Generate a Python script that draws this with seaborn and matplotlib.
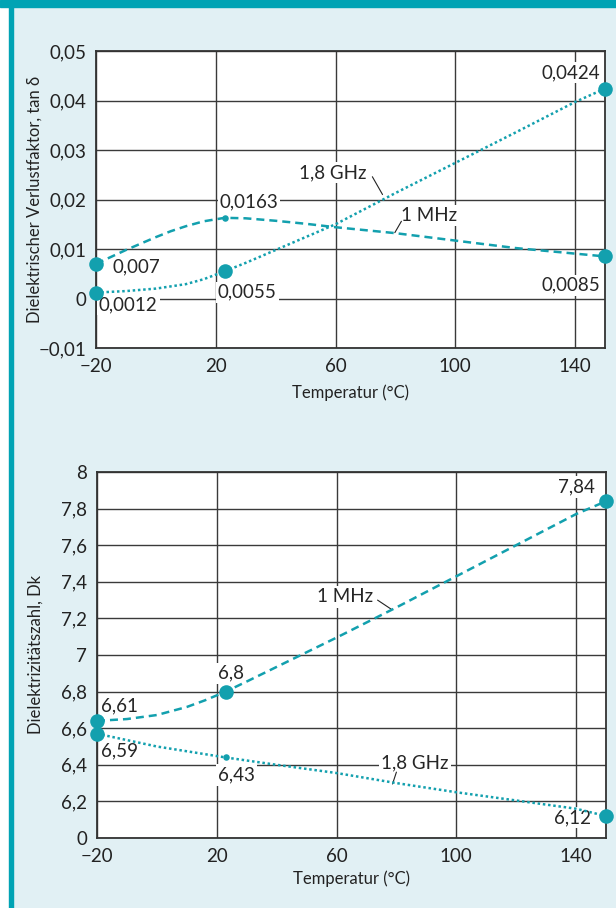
import numpy as np
import pandas as pd
import matplotlib.pyplot as plt
from matplotlib.patches import Rectangle
import seaborn as sns

TEAL = "#00a3b4"
LINE_TEAL = "#13a0ae"
BG = "#e1f0f4"
GRID = "#3a3a3a"

# --- dissipation factor (tan delta)
temp_df_mhz = [-20, -15, -10, -5, 0, 5, 10, 16, 23, 30, 40, 50, 60, 80, 100, 120, 150]
df_mhz = [0.007, 0.0084, 0.0098, 0.0111, 0.0124, 0.0136, 0.0146, 0.0156, 0.0163, 0.0162,
          0.0157, 0.0151, 0.0144, 0.0132, 0.0117, 0.0102, 0.0085]
temp_df_ghz = [-20, -10, 0, 10, 16, 23, 30, 40, 60, 80, 100, 120, 140, 150]
df_ghz = [0.0012, 0.0015, 0.002, 0.0029, 0.0039, 0.0055, 0.0072, 0.0098, 0.015, 0.0213,
          0.0274, 0.0335, 0.0397, 0.0424]

# marked points
mark_df_big = pd.DataFrame({"t": [-20, 150, -20, 23, 150],
                            "v": [0.007, 0.0085, 0.0012, 0.0055, 0.0424]})
mark_df_small = pd.DataFrame({"t": [23], "v": [0.0163]})

# --- dielectric constant (Dk)
temp_dk_mhz = [-20, -10, 0, 10, 16, 23, 30, 40, 60, 80, 100, 120, 140, 150]
dk_mhz = [6.64, 6.65, 6.672, 6.716, 6.752, 6.8, 6.855, 6.935, 7.095, 7.26, 7.43, 7.60, 7.77, 7.84]
temp_dk_ghz = [-20, 0, 23, 40, 60, 80, 100, 120, 140, 150]
dk_ghz = [6.57, 6.50, 6.44, 6.40, 6.355, 6.30, 6.25, 6.205, 6.16, 6.12]

mark_dk_big = pd.DataFrame({"t": [-20, 23, 150, -20, 150],
                            "v": [6.64, 6.8, 7.84, 6.57, 6.12]})
mark_dk_small = pd.DataFrame({"t": [23], "v": [6.44]})

x_ticks = [-20, 20, 60, 100, 140]
x_labels = ["\u221220", "20", "60", "100", "140"]
df_ticks = [-0.01, 0, 0.01, 0.02, 0.03, 0.04, 0.05]
df_labels = ["\u22120,01", "0", "0,01", "0,02", "0,03", "0,04", "0,05"]
dk_ticks = [6.0, 6.2, 6.4, 6.6, 6.8, 7.0, 7.2, 7.4, 7.6, 7.8, 8.0]
dk_labels = ["0", "6,2", "6,4", "6,6", "6,8", "7", "7,2", "7,4", "7,6", "7,8", "8"]

sns.set_theme(style="white")
plt.rcParams["font.family"] = ["Lato", "DejaVu Sans"]

fig = plt.figure(figsize=(6.16, 9.08), dpi=100, facecolor=BG)
W, H = 616, 908

# frame: white strip, teal top bar and teal left bar
fig.patches.append(Rectangle((0, 0), 9 / W, 1, transform=fig.transFigure, color="white", zorder=0))
fig.patches.append(Rectangle((0, 1 - 7 / H), 1, 7 / H, transform=fig.transFigure, color=TEAL, zorder=1))
fig.patches.append(Rectangle((9 / W, 0), 4 / W, 1, transform=fig.transFigure, color=TEAL, zorder=1))

ax1 = fig.add_axes([96 / W, 1 - 348 / H, 509 / W, 297 / H])
ax2 = fig.add_axes([97 / W, 1 - 838 / H, 509 / W, 366 / H])

dashed = (0, (3.2, 2.0))
dotted = (0, (1, 1.1))
box = dict(facecolor="white", edgecolor="none", pad=1.5)
FS = 13.5


def style_axes(ax, yticks, ylabels, ylim, ylabel, xpad):
    ax.set_facecolor("white")
    ax.set_xlim(-20, 150)
    ax.set_ylim(*ylim)
    ax.set_xticks(x_ticks)
    ax.set_xticklabels(x_labels)
    ax.set_yticks(yticks)
    ax.set_yticklabels(ylabels)
    ax.tick_params(axis="both", length=0, labelsize=FS, colors="#222222", pad=7)
    ax.grid(True, color=GRID, lw=1.0)
    ax.set_axisbelow(True)
    for s in ax.spines.values():
        s.set_color("#333333")
        s.set_linewidth(1.3)
    ax.set_xlabel("Temperatur (\u00b0C)", fontsize=12, color="#222222", labelpad=xpad)
    ax.set_ylabel(ylabel, fontsize=12, color="#222222")
    ax.yaxis.set_label_coords(-0.104, 0.5)


# top panel
sns.lineplot(x=temp_df_mhz, y=df_mhz, ax=ax1, color=LINE_TEAL, lw=1.8, linestyle=dashed)
sns.lineplot(x=temp_df_ghz, y=df_ghz, ax=ax1, color=LINE_TEAL, lw=1.8, linestyle=dotted)
sns.scatterplot(data=mark_df_big, x="t", y="v", ax=ax1, color=LINE_TEAL, s=110,
                linewidth=0, clip_on=False, zorder=5)
sns.scatterplot(data=mark_df_small, x="t", y="v", ax=ax1, color=LINE_TEAL, s=22,
                linewidth=0, clip_on=False, zorder=5)
style_axes(ax1, df_ticks, df_labels, (-0.01, 0.05),
           "Dielektrischer Verlustfaktor, tan \u03b4", 7)

ax1.text(138.7, 0.0456, "0,0424", ha="center", va="center", fontsize=FS, bbox=box, zorder=1.5)
ax1.text(138.7, 0.0027, "0,0085", ha="center", va="center", fontsize=FS, bbox=box, zorder=1.5)
ax1.text(-14.5, 0.0064, "0,007", ha="left", va="center", fontsize=FS, bbox=box, zorder=1.5)
ax1.text(-19.0, -0.0013, "0,0012", ha="left", va="center", fontsize=FS, bbox=box, zorder=1.5)
ax1.text(21.3, 0.0195, "0,0163", ha="left", va="center", fontsize=FS, bbox=box, zorder=1.5)
ax1.text(20.7, 0.0013, "0,0055", ha="left", va="center", fontsize=FS, bbox=box, zorder=1.5)
ax1.text(70.5, 0.0254, "1,8 GHz", ha="right", va="center", fontsize=FS, bbox=box, zorder=1.5)
ax1.text(82.0, 0.0167, "1 MHz", ha="left", va="center", fontsize=FS, bbox=box, zorder=1.5)
ax1.plot([72.3, 75.7], [0.0246, 0.0210], color="#222222", lw=0.8, zorder=1.6)
ax1.plot([82.0, 79.8], [0.0156, 0.0133], color="#222222", lw=0.8, zorder=1.6)

# bottom panel
sns.lineplot(x=temp_dk_mhz, y=dk_mhz, ax=ax2, color=LINE_TEAL, lw=1.8, linestyle=dashed)
sns.lineplot(x=temp_dk_ghz, y=dk_ghz, ax=ax2, color=LINE_TEAL, lw=1.8, linestyle=dotted)
sns.scatterplot(data=mark_dk_big, x="t", y="v", ax=ax2, color=LINE_TEAL, s=110,
                linewidth=0, clip_on=False, zorder=5)
sns.scatterplot(data=mark_dk_small, x="t", y="v", ax=ax2, color=LINE_TEAL, s=22,
                linewidth=0, clip_on=False, zorder=5)
style_axes(ax2, dk_ticks, dk_labels, (6.0, 8.0), "Dielektrizit\u00e4tszahl, Dk", 4)

ax2.text(140.0, 7.918, "7,84", ha="center", va="center", fontsize=FS, bbox=box, zorder=1.5)
ax2.text(72.3, 7.317, "1 MHz", ha="right", va="center", fontsize=FS, bbox=box, zorder=1.5)
ax2.text(20.3, 6.90, "6,8", ha="left", va="center", fontsize=FS, bbox=box, zorder=1.5)
ax2.text(-18.7, 6.72, "6,61", ha="left", va="center", fontsize=FS, bbox=box, zorder=1.5)
ax2.text(-18.7, 6.475, "6,59", ha="left", va="center", fontsize=FS, bbox=box, zorder=1.5)
ax2.text(20.3, 6.344, "6,43", ha="left", va="center", fontsize=FS, bbox=box, zorder=1.5)
ax2.text(75.0, 6.41, "1,8 GHz", ha="left", va="center", fontsize=FS, bbox=box, zorder=1.5)
ax2.text(138.7, 6.11, "6,12", ha="center", va="center", fontsize=FS, bbox=box, zorder=1.5)
ax2.plot([73.7, 78.3], [7.30, 7.25], color="#222222", lw=0.8, zorder=1.6)
ax2.plot([80.0, 78.7], [6.36, 6.295], color="#222222", lw=0.8, zorder=1.6)

fig.savefig("out.png", dpi=100, facecolor=BG)
